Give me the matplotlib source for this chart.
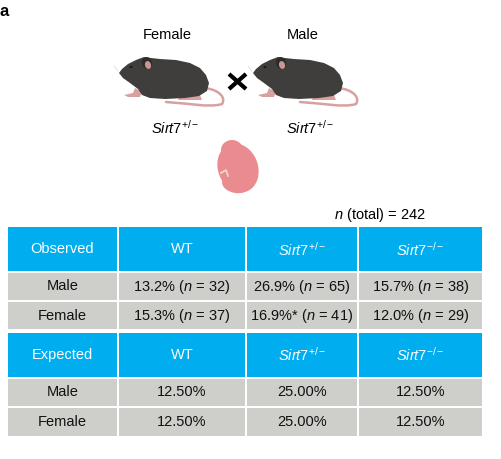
import matplotlib
matplotlib.use("Agg")
import matplotlib.pyplot as plt
from matplotlib.patches import Rectangle, Ellipse, Polygon, PathPatch
from matplotlib.path import Path

plt.rcParams['font.family'] = ['Liberation Sans', 'DejaVu Sans']
plt.rcParams['mathtext.fontset'] = 'custom'
plt.rcParams['mathtext.rm'] = 'Liberation Sans'
plt.rcParams['mathtext.it'] = 'Liberation Sans:italic'
plt.rcParams['mathtext.bf'] = 'Liberation Sans:bold'

# ---- data ----
parents = ["Female", "Male"]
parent_genotype = r"$\mathit{Sirt7}^{\mathit{+/-}}$"
genotypes = ["WT", r"$\mathit{Sirt7}^{\mathit{+/-}}$", r"$\mathit{Sirt7}^{\mathit{-/-}}$"]
sexes = ["Male", "Female"]
observed_pct = [[13.2, 26.9, 15.7], [15.3, 16.9, 12.0]]
observed_n = [[32, 65, 38], [37, 41, 29]]
observed_flag = [["", "", ""], ["", "*", ""]]
expected_pct = [[12.50, 25.00, 12.50], [12.50, 25.00, 12.50]]
n_total = 242

BLUE = "#00AEEF"
GRAY = "#CECECA"
MOUSE = "#403e3c"
PINK = "#d9a0a0"
EMBRYO = "#ea8b90"

fig = plt.figure(figsize=(5.01, 4.59), dpi=100)
ax = fig.add_axes([0, 0, 1, 1])
ax.set_xlim(0, 501)
ax.set_ylim(459, 0)
ax.axis('off')

ax.text(0, 11, "a", fontsize=12, fontweight='bold', ha='left', va='center')


def draw_mouse(dx):
    # tail
    verts = [(205 + dx, 88), (220 + dx, 90), (226 + dx, 98), (222 + dx, 104),
             (210 + dx, 108), (185 + dx, 103), (166 + dx, 102)]
    codes = [Path.MOVETO, Path.CURVE4, Path.CURVE4, Path.CURVE4,
             Path.CURVE4, Path.CURVE4, Path.CURVE4]
    ax.add_patch(PathPatch(Path(verts, codes), fill=False, edgecolor=PINK, lw=1.8,
                           capstyle='round', zorder=2))
    # hind foot
    ax.add_patch(Polygon([(180 + dx, 95), (200 + dx, 95), (202 + dx, 100), (178 + dx, 100)],
                         closed=True, fc=PINK, ec='none', zorder=2))
    # front foot
    ax.add_patch(Polygon([(135 + dx, 88), (142 + dx, 92), (140 + dx, 97), (128 + dx, 97),
                          (124 + dx, 95), (133 + dx, 93)],
                         closed=True, fc=PINK, ec='none', zorder=2))
    # body
    body = [(119, 73), (122, 69), (128, 64), (136, 60), (144, 57), (151, 58),
            (160, 59), (176, 60), (190, 63), (200, 68), (206, 75), (209, 83),
            (207, 91), (199, 96), (185, 98), (165, 99), (150, 98), (142, 95),
            (138, 89), (130, 83), (123, 78)]
    ax.add_patch(Polygon([(x + dx, y) for x, y in body], closed=True, fc=MOUSE,
                         ec='none', zorder=3))
    # ear
    ax.add_patch(Ellipse((147 + dx, 63), 10, 12, angle=-15, fc="#2e2c2b", ec='none', zorder=4))
    ax.add_patch(Ellipse((148 + dx, 65), 6, 8, angle=-15, fc="#c99595", ec='none', zorder=5))
    # eye
    ax.add_patch(Ellipse((131 + dx, 67), 3, 2, fc="#151515", ec='none', zorder=5))
    # whisker
    ax.plot([118 + dx, 114 + dx], [71, 66], color="#dddddd", lw=0.6, zorder=2)


for i, dx in enumerate([0, 134]):
    draw_mouse(dx)

# cross
ax.plot([229, 246], [74, 89], color="black", lw=3, solid_capstyle='butt', zorder=3)
ax.plot([229, 246], [89, 74], color="black", lw=3, solid_capstyle='butt', zorder=3)

# labels above/below mice
for name, x in zip(parents, [167, 303]):
    ax.text(x, 35, name, fontsize=10.5, ha='center', va='center')
for x in [175, 310]:
    ax.text(x, 128, parent_genotype, fontsize=10.5, ha='center', va='center')

# embryo
ax.add_patch(Ellipse((238, 168), 40, 50, angle=-20, fc=EMBRYO, ec='none', zorder=2))
ax.add_patch(Ellipse((232, 150), 22, 20, fc=EMBRYO, ec='none', zorder=2))
ax.add_patch(Ellipse((236, 184), 28, 18, angle=10, fc=EMBRYO, ec='none', zorder=2))
ax.plot([221, 226, 228], [173, 170, 176], color="#f4d8c8", lw=1.2, zorder=3)

ax.text(380, 215, r"$\mathit{n}$ (total) = " + str(n_total), fontsize=10.5,
        ha='center', va='center')

# ---- table ----
col_edges = [7, 118, 246, 358, 483]
gap = 1.0


def cell(x0, x1, y0, y1, color, text, textcolor):
    ax.add_patch(Rectangle((x0 + gap, y0 + gap), x1 - x0 - 2 * gap, y1 - y0 - 2 * gap,
                           fc=color, ec='none', zorder=1))
    ax.text((x0 + x1) / 2, (y0 + y1) / 2 + 0.5, text, fontsize=10.5, color=textcolor,
            ha='center', va='center', zorder=2)


def block(title, row_edges, values):
    y0, y1 = row_edges[0], row_edges[1]
    heads = [title] + genotypes
    for c in range(4):
        cell(col_edges[c], col_edges[c + 1], y0, y1, BLUE, heads[c], "white")
    for r in range(2):
        y0, y1 = row_edges[r + 1], row_edges[r + 2]
        cell(col_edges[0], col_edges[1], y0, y1, GRAY, sexes[r], "#111111")
        for c in range(3):
            cell(col_edges[c + 1], col_edges[c + 2], y0, y1, GRAY, values[r][c], "#111111")


obs_text = [[f"{observed_pct[r][c]:.1f}%{observed_flag[r][c]} (" + r"$\mathit{n}$" +
             f" = {observed_n[r][c]})" for c in range(3)] for r in range(2)]
exp_text = [[f"{expected_pct[r][c]:.2f}%" for c in range(3)] for r in range(2)]

block("Observed", [226, 271.5, 300.5, 330], obs_text)
block("Expected", [331.5, 377.5, 406.5, 437], exp_text)

fig.savefig("out.png", dpi=100, facecolor="white")
